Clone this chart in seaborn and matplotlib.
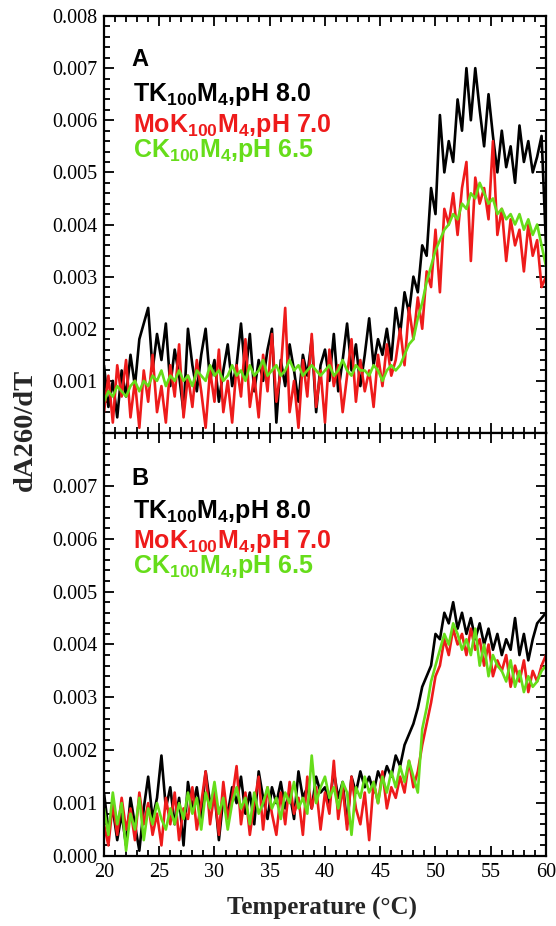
import numpy as np
import pandas as pd
import matplotlib
matplotlib.use("Agg")
import matplotlib.pyplot as plt
from matplotlib.ticker import FixedLocator, MultipleLocator
import seaborn as sns

# ---------------- data ----------------
temperature = [round(20 + 0.4 * i, 1) for i in range(101)]  # 20.0 ... 60.0 °C

tk_A = [0.0013, 0.0005, 0.0010, 0.0003, 0.0012, 0.0007, 0.0015, 0.0009, 0.0018, 0.0021,
        0.0024, 0.0012, 0.0019, 0.0014, 0.0021, 0.0009, 0.0016, 0.0011, 0.0004, 0.0020,
        0.0013, 0.0008, 0.0015, 0.0020, 0.0010, 0.0014, 0.0006, 0.0012, 0.0017, 0.0009,
        0.0013, 0.0021, 0.0011, 0.0019, 0.0008, 0.0014, 0.0010, 0.0016, 0.0020, 0.0002,
        0.0014, 0.0009, 0.0017, 0.0012, 0.0006, 0.0015, 0.0011, 0.0018, 0.0004, 0.0013,
        0.0016, 0.0010, 0.0019, 0.0008, 0.0014, 0.0021, 0.0012, 0.0017, 0.0009, 0.0015,
        0.0022, 0.0013, 0.0018, 0.0015, 0.0020, 0.0014, 0.0024, 0.0019, 0.0027, 0.0023,
        0.0030, 0.0027, 0.0036, 0.0034, 0.0047, 0.0042, 0.0061, 0.0050, 0.0056, 0.0052,
        0.0064, 0.0058, 0.0070, 0.0060, 0.0070, 0.0062, 0.0055, 0.0065, 0.0057, 0.0050,
        0.0058, 0.0051, 0.0055, 0.0048, 0.0059, 0.0052, 0.0056, 0.0050, 0.0053, 0.0057,
        0.0036]

mok_A = [0.0004, 0.0011, 0.0002, 0.0013, 0.0007, 0.0014, 0.0003, 0.0010, 0.0001, 0.0012,
         0.0006, 0.0015, 0.0004, 0.0009, 0.0002, 0.0013, 0.0007, 0.0017, 0.0003, 0.0011,
         0.0005, 0.0014, 0.0008, 0.0001, 0.0012, 0.0006, 0.0016, 0.0004, 0.0010, 0.0002,
         0.0013, 0.0007, 0.0018, 0.0005, 0.0011, 0.0003, 0.0015, 0.0008, 0.0019, 0.0006,
         0.0012, 0.0024, 0.0004, 0.0010, 0.0001, 0.0014, 0.0007, 0.0019, 0.0005, 0.0012,
         0.0002, 0.0016, 0.0009, 0.0013, 0.0004, 0.0011, 0.0018, 0.0006, 0.0014, 0.0008,
         0.0012, 0.0005, 0.0015, 0.0009, 0.0017, 0.0011, 0.0014, 0.0020, 0.0013, 0.0024,
         0.0018, 0.0026, 0.0020, 0.0031, 0.0028, 0.0039, 0.0027, 0.0043, 0.0040, 0.0046,
         0.0038, 0.0047, 0.0052, 0.0033, 0.0049, 0.0044, 0.0047, 0.0041, 0.0056, 0.0038,
         0.0043, 0.0033, 0.0041, 0.0036, 0.0039, 0.0031, 0.0040, 0.0034, 0.0037, 0.0028,
         0.0030]

ck_A = [0.0006, 0.0008, 0.0007, 0.0009, 0.0008, 0.0007, 0.0009, 0.0010, 0.0008, 0.0010,
        0.0009, 0.0011, 0.0010, 0.0012, 0.0009, 0.0011, 0.0010, 0.0012, 0.0010, 0.0011,
        0.0009, 0.0012, 0.0011, 0.0010, 0.0013, 0.0011, 0.0012, 0.0010, 0.0011, 0.0013,
        0.0011, 0.0012, 0.0010, 0.0013, 0.0011, 0.0012, 0.0014, 0.0011, 0.0012, 0.0013,
        0.0011, 0.0012, 0.0014, 0.0012, 0.0013, 0.0011, 0.0012, 0.0013, 0.0012, 0.0011,
        0.0012, 0.0013, 0.0011, 0.0012, 0.0014, 0.0012, 0.0011, 0.0013, 0.0012, 0.0012,
        0.0011, 0.0013, 0.0012, 0.0010, 0.0012, 0.0013, 0.0012, 0.0013, 0.0015, 0.0017,
        0.0018, 0.0022, 0.0025, 0.0029, 0.0032, 0.0035, 0.0037, 0.0039, 0.0040, 0.0042,
        0.0041, 0.0044, 0.0043, 0.0046, 0.0045, 0.0048, 0.0046, 0.0044, 0.0045, 0.0042,
        0.0043, 0.0041, 0.0042, 0.0040, 0.0042, 0.0039, 0.0041, 0.0038, 0.0040, 0.0036,
        0.0032]

tk_B = [0.0012, 0.0005, 0.0009, 0.0003, 0.0008, 0.0002, 0.0011, 0.0006, 0.0001, 0.0009,
        0.0015, 0.0007, 0.0011, 0.0019, 0.0009, 0.0013, 0.0006, 0.0011, 0.0002, 0.0014,
        0.0009, 0.0013, 0.0007, 0.0016, 0.0010, 0.0012, 0.0003, 0.0011, 0.0008, 0.0013,
        0.0010, 0.0015, 0.0008, 0.0012, 0.0006, 0.0016, 0.0011, 0.0007, 0.0013, 0.0010,
        0.0014, 0.0009, 0.0012, 0.0007, 0.0016, 0.0011, 0.0013, 0.0009, 0.0015, 0.0012,
        0.0013, 0.0010, 0.0016, 0.0011, 0.0014, 0.0006, 0.0015, 0.0012, 0.0016, 0.0013,
        0.0015, 0.0012, 0.0016, 0.0014, 0.0017, 0.0015, 0.0019, 0.0017, 0.0021, 0.0023,
        0.0025, 0.0028, 0.0032, 0.0034, 0.0036, 0.0042, 0.0041, 0.0046, 0.0044, 0.0048,
        0.0043, 0.0046, 0.0042, 0.0045, 0.0041, 0.0044, 0.0040, 0.0043, 0.0039, 0.0042,
        0.0038, 0.0041, 0.0039, 0.0045, 0.0038, 0.0042, 0.0037, 0.0041, 0.0044, 0.0045,
        0.0046]

mok_B = [0.0006, 0.0002, 0.0010, 0.0004, 0.0011, 0.0005, 0.0009, 0.0003, 0.0012, 0.0006,
         0.0010, 0.0004, 0.0008, 0.0002, 0.0011, 0.0006, 0.0012, 0.0003, 0.0009, 0.0007,
         0.0013, 0.0005, 0.0010, 0.0016, 0.0006, 0.0012, 0.0004, 0.0014, 0.0007, 0.0011,
         0.0017, 0.0006, 0.0012, 0.0004, 0.0010, 0.0015, 0.0005, 0.0013, 0.0008, 0.0004,
         0.0012, 0.0006, 0.0014, 0.0008, 0.0011, 0.0004, 0.0015, 0.0009, 0.0013, 0.0005,
         0.0012, 0.0008, 0.0018, 0.0007, 0.0013, 0.0005, 0.0015, 0.0009, 0.0006, 0.0012,
         0.0003, 0.0014, 0.0010, 0.0016, 0.0009, 0.0013, 0.0011, 0.0015, 0.0012, 0.0018,
         0.0013, 0.0016, 0.0021, 0.0025, 0.0029, 0.0034, 0.0036, 0.0041, 0.0038, 0.0043,
         0.0040, 0.0042, 0.0038, 0.0043, 0.0039, 0.0041, 0.0036, 0.0040, 0.0034, 0.0037,
         0.0035, 0.0038, 0.0032, 0.0036, 0.0033, 0.0037, 0.0031, 0.0035, 0.0033, 0.0036,
         0.0038]

ck_B = [0.0009, 0.0004, 0.0012, 0.0006, 0.0010, 0.0001, 0.0008, 0.0005, 0.0011, 0.0003,
        0.0009, 0.0006, 0.0010, 0.0007, 0.0005, 0.0009, 0.0006, 0.0010, 0.0007, 0.0012,
        0.0008, 0.0011, 0.0005, 0.0012, 0.0009, 0.0014, 0.0008, 0.0011, 0.0005, 0.0010,
        0.0013, 0.0009, 0.0011, 0.0006, 0.0012, 0.0008, 0.0010, 0.0013, 0.0009, 0.0011,
        0.0007, 0.0012, 0.0010, 0.0014, 0.0009, 0.0011, 0.0008, 0.0019, 0.0010, 0.0013,
        0.0015, 0.0011, 0.0013, 0.0009, 0.0014, 0.0012, 0.0004, 0.0013, 0.0011, 0.0015,
        0.0012, 0.0014, 0.0010, 0.0015, 0.0012, 0.0016, 0.0013, 0.0017, 0.0014, 0.0018,
        0.0015, 0.0012, 0.0024, 0.0028, 0.0033, 0.0036, 0.0039, 0.0042, 0.0040, 0.0044,
        0.0042, 0.0039, 0.0041, 0.0038, 0.0043, 0.0036, 0.0040, 0.0034, 0.0038, 0.0036,
        0.0035, 0.0033, 0.0037, 0.0032, 0.0035, 0.0031, 0.0034, 0.0032, 0.0033, 0.0035,
        0.0036]

series_names = ["TK", "MoK", "CK"]
series_colors = {"TK": "#000000", "MoK": "#ee1b1b", "CK": "#66dd1a"}
label_texts = [r"TK$_{\mathregular{100}}$M$_{\mathregular{4}}$,pH 8.0",
               r"MoK$_{\mathregular{100}}$M$_{\mathregular{4}}$,pH 7.0",
               r"CK$_{\mathregular{100}}$M$_{\mathregular{4}}$,pH 6.5"]
panel_letters = ["A", "B"]
yticks_A = [0.001, 0.002, 0.003, 0.004, 0.005, 0.006, 0.007, 0.008]
yticks_B = [0.000, 0.001, 0.002, 0.003, 0.004, 0.005, 0.006, 0.007]
xticks = [20, 25, 30, 35, 40, 45, 50, 55, 60]


def long_frame(a, b, c):
    frames = []
    for name, vals in zip(series_names, [a, b, c]):
        frames.append(pd.DataFrame({"T": temperature, "v": vals, "s": name}))
    return pd.concat(frames, ignore_index=True)


dfA = long_frame(tk_A, mok_A, ck_A)
dfB = long_frame(tk_B, mok_B, ck_B)

# ---------------- style ----------------
sns.set_style("ticks")
plt.rcParams["font.family"] = ["Liberation Serif", "DejaVu Serif"]
plt.rcParams["mathtext.default"] = "regular"

fig = plt.figure(figsize=(5.56, 9.26), dpi=100)
axA = fig.add_axes([0.187, 0.5324, 0.795, 0.4503])
axB = fig.add_axes([0.187, 0.0756, 0.795, 0.4568])

for ax, df, yt, letter, ypos in [
    (axA, dfA, yticks_A, "A", (0.880, 0.796, 0.722, 0.662)),
    (axB, dfB, yticks_B, "B", (0.877, 0.799, 0.728, 0.669)),
]:
    sns.lineplot(data=df, x="T", y="v", hue="s", hue_order=series_names,
                 palette=series_colors, estimator=None, sort=False,
                 linewidth=1.9, legend=False, ax=ax)
    ax.set_xlim(20, 60)
    ax.set_ylim(0, 0.008)
    ax.xaxis.set_major_locator(FixedLocator(xticks))
    ax.xaxis.set_minor_locator(MultipleLocator(1))
    ax.yaxis.set_major_locator(FixedLocator(yt))
    ax.set_yticklabels([f"{v:.3f}" for v in yt])
    ax.yaxis.set_minor_locator(MultipleLocator(0.0002))
    ax.tick_params(which="both", direction="in", top=True, right=True,
                   labelsize=14.5, width=1.3, colors="black")
    ax.tick_params(which="major", length=7, pad=5)
    ax.tick_params(which="minor", length=4)
    for sp in ax.spines.values():
        sp.set_linewidth(1.6)
        sp.set_color("black")
    ax.set_xlabel("")
    ax.set_ylabel("")
    ax.text(0.061, ypos[0], letter, transform=ax.transAxes, family="Liberation Sans",
            fontweight="bold", fontsize=17, color="black", va="baseline")
    for txt, col, yy in zip(label_texts, series_names, ypos[1:]):
        ax.text(0.066, yy, txt, transform=ax.transAxes, family="Liberation Sans",
                fontweight="bold", fontsize=18, color=series_colors[col], va="baseline")

axA.tick_params(labelbottom=False)
axB.set_xticklabels([str(x) for x in xticks])

fig.text(0.045, 0.5356, "dA260/dT", rotation=90, ha="center", va="center",
         fontweight="bold", fontsize=20.5)
fig.text(0.58, 0.019, "Temperature (°C)", ha="center", va="center",
         fontweight="bold", fontsize=18)

fig.savefig("out.png", dpi=100)
